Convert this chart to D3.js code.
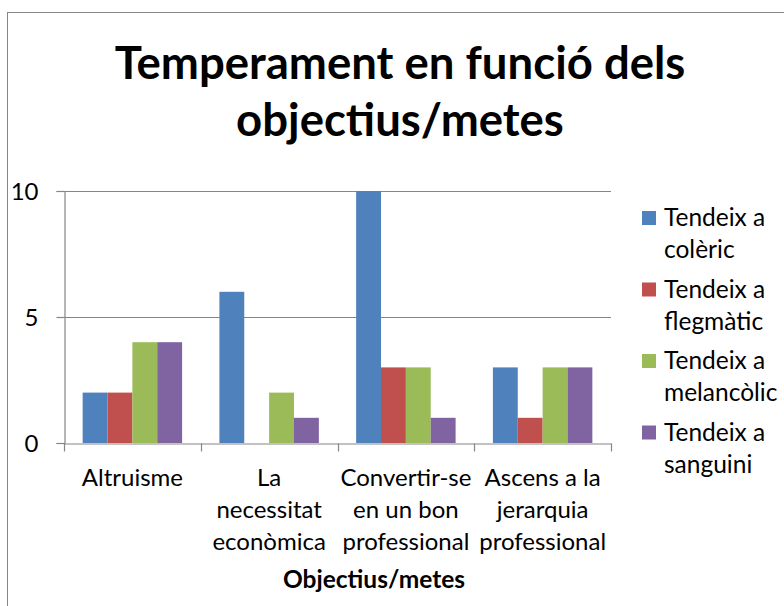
<!DOCTYPE html>
<html>
<head>
<meta charset="utf-8">
<script src="https://cdn.jsdelivr.net/npm/d3@7"></script>
<style>
  html, body { margin: 0; padding: 0; background: #fff; }
  svg { display: block; }
  text { font-family: Lato, "Open Sans", sans-serif; fill: #000; }
</style>
</head>
<body>
<svg id="chart" width="784" height="606"></svg>
<script>
const categories = ["Altruisme", "La necessitat econòmica", "Convertir-se en un bon professional", "Ascens a la jerarquia professional"];
const categoryLines = [["Altruisme"], ["La", "necessitat", "econòmica"], ["Convertir-se", "en un bon", "professional"], ["Ascens a la", "jerarquia", "professional"]];
const seriesNames = ["Tendeix a colèric", "Tendeix a flegmàtic", "Tendeix a melancòlic", "Tendeix a sanguini"];
const seriesLines = [["Tendeix a", "colèric"], ["Tendeix a", "flegmàtic"], ["Tendeix a", "melancòlic"], ["Tendeix a", "sanguini"]];
const colerico = [2, 6, 10, 3];
const flegmatic = [2, 0, 3, 1];
const melancolic = [4, 2, 3, 3];
const sanguini = [4, 1, 1, 3];
const seriesValues = [colerico, flegmatic, melancolic, sanguini];
const colors = ["#4F81BD", "#C0504D", "#9BBB59", "#8064A2"];
const yTicks = [0, 5, 10];
const titleLines = ["Temperament en funció dels", "objectius/metes"];
const xAxisTitle = "Objectius/metes";

const svg = d3.select("#chart");
const plot = { left: 64, right: 611, top: 191, bottom: 443 };
const gridColor = "#868686";
const labelSize = 24;

// chart frame (only top/left edges visible in the window)
svg.append("rect")
  .attr("x", 7.5).attr("y", 12.5)
  .attr("width", 900).attr("height", 900)
  .attr("fill", "none").attr("stroke", gridColor).attr("stroke-width", 1);

// title
svg.append("g").selectAll("text").data(titleLines).join("text")
  .attr("x", 400)
  .attr("y", (d, i) => 79 + i * 57)
  .attr("text-anchor", "middle")
  .attr("font-weight", "bold")
  .attr("font-size", 45.5)
  .text(d => d);

const x0 = d3.scaleBand().domain(categories).range([plot.left, plot.right]).paddingInner(0).paddingOuter(0);
const x1 = d3.scaleBand().domain(d3.range(seriesNames.length)).range([0, x0.bandwidth()]).paddingInner(0).paddingOuter(0.75);
const y = d3.scaleLinear().domain([0, 10]).range([plot.bottom, plot.top]);

// gridlines
svg.append("g").selectAll("line").data(yTicks.filter(t => t > 0)).join("line")
  .attr("x1", plot.left).attr("x2", plot.right)
  .attr("y1", d => Math.round(y(d)) + 0.5).attr("y2", d => Math.round(y(d)) + 0.5)
  .attr("stroke", gridColor).attr("stroke-width", 1.2);

// bars
const groups = svg.append("g").selectAll("g").data(categories).join("g")
  .attr("transform", d => `translate(${x0(d)},0)`);
groups.selectAll("rect")
  .data((d, ci) => seriesValues.map((vals, si) => ({ si, v: vals[ci] })))
  .join("rect")
  .attr("x", d => x1(d.si))
  .attr("width", x1.bandwidth())
  .attr("y", d => y(d.v))
  .attr("height", d => y(0) - y(d.v))
  .attr("fill", d => colors[d.si]);

// y axis
const yAxis = d3.axisLeft(y).tickValues(yTicks).tickSize(8).tickPadding(8).tickFormat(d3.format("d"));
const yg = svg.append("g").attr("transform", `translate(${plot.left + 0.5},0)`).call(yAxis);
yg.select(".domain").attr("stroke", gridColor).attr("stroke-width", 1.2);
yg.selectAll(".tick line").attr("stroke", gridColor).attr("stroke-width", 1.2);
yg.selectAll(".tick text").attr("font-size", labelSize).attr("fill", "#000").style("font-family", "Lato, sans-serif").attr("x", -26).attr("dy", "0.35em");

// x axis
const xAxis = d3.axisBottom(x0).tickSize(0).tickFormat("");
const xg = svg.append("g").attr("transform", `translate(0,${Math.round(plot.bottom) + 0.5})`).call(xAxis);
xg.select(".domain").attr("stroke", gridColor).attr("stroke-width", 1.2);
xg.selectAll(".tick").remove();
const boundaries = categories.map(c => x0(c)).concat([x0.range()[1]]);
xg.selectAll("line.tk").data(boundaries).join("line").attr("class", "tk")
  .attr("x1", d => Math.round(d) + 0.5).attr("x2", d => Math.round(d) + 0.5)
  .attr("y1", 0).attr("y2", 8)
  .attr("stroke", gridColor).attr("stroke-width", 1.2);

// category labels
const catG = svg.append("g").selectAll("text").data(categories).join("text")
  .attr("text-anchor", "middle")
  .attr("font-size", labelSize)
  .attr("transform", d => `translate(${x0(d) + x0.bandwidth() / 2},0)`);
catG.selectAll("tspan").data((d, i) => categoryLines[i]).join("tspan")
  .attr("x", 0)
  .attr("y", (d, i) => 486 + i * 32)
  .text(d => d);

// x axis title
svg.append("text")
  .attr("x", 374).attr("y", 588)
  .attr("text-anchor", "middle")
  .attr("font-weight", "bold")
  .attr("font-size", 24.5)
  .text(xAxisTitle);

// legend
const leg = svg.append("g").selectAll("g").data(seriesNames).join("g")
  .attr("transform", (d, i) => `translate(642,${211 + i * 71.5})`);
leg.append("rect").attr("width", 14).attr("height", 14).attr("fill", (d, i) => colors[i]);
leg.append("text").attr("font-size", 24.5)
  .selectAll("tspan").data((d, i) => seriesLines[i]).join("tspan")
  .attr("x", 22).attr("y", (d, i) => 15 + i * 32)
  .text(d => d);
</script>
</body>
</html>
